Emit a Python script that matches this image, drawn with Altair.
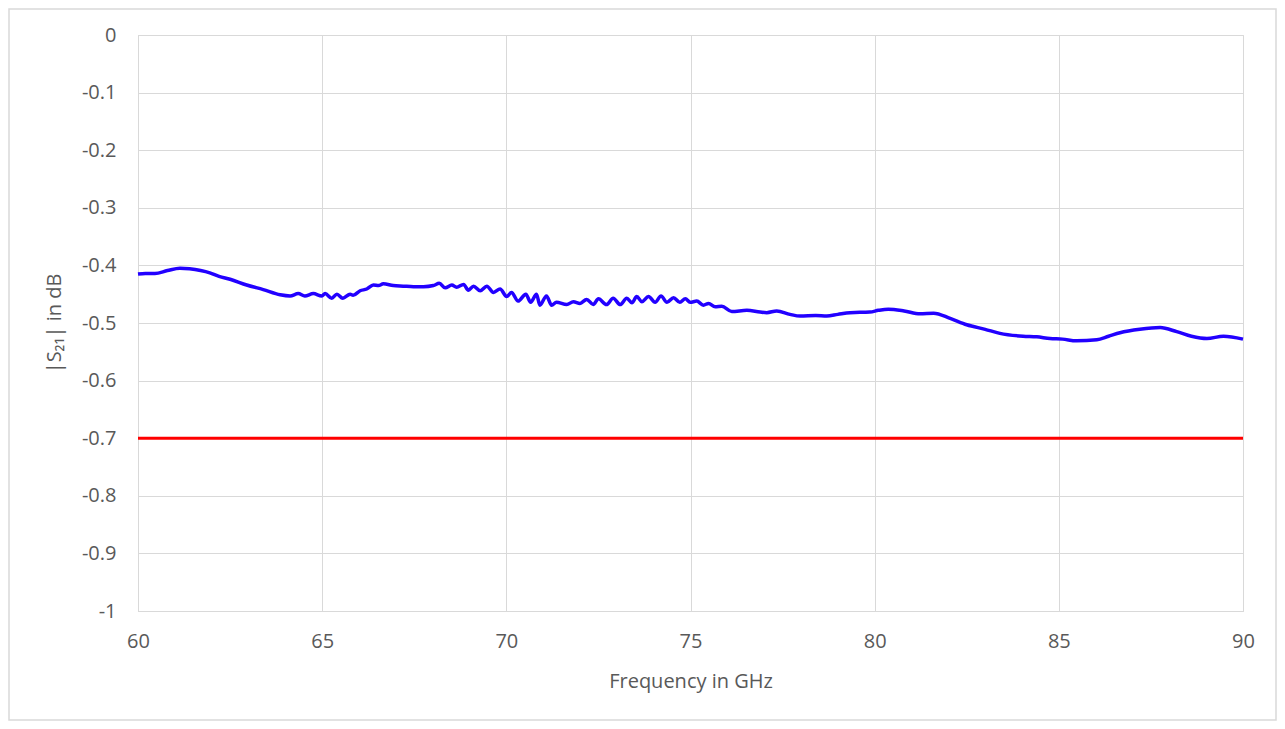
import altair as alt
import pandas as pd

freq = [60.0, 60.2, 60.46, 60.8, 61.14, 61.4, 61.7, 61.95, 62.2, 62.5, 62.95, 63.4,
        63.86, 64.13, 64.35, 64.53, 64.76, 64.99, 65.08, 65.26, 65.4, 65.56, 65.76, 65.84,
        66.03, 66.21, 66.39, 66.53, 66.66, 66.93, 67.2, 67.48, 67.75, 68.02, 68.18, 68.34,
        68.52, 68.65, 68.84, 68.97, 69.11, 69.29, 69.47, 69.65, 69.83, 70.01, 70.14, 70.32,
        70.53, 70.66, 70.82, 70.91, 71.09, 71.23, 71.36, 71.64, 71.82, 72.0, 72.18, 72.36,
        72.5, 72.72, 72.9, 73.09, 73.27, 73.41, 73.54, 73.68, 73.86, 74.04, 74.2, 74.36,
        74.54, 74.71, 74.86, 74.99, 75.17, 75.35, 75.49, 75.67, 75.85, 76.12, 76.53, 76.89,
        77.07, 77.34, 77.7, 77.98, 78.4, 78.7, 79.0, 79.33, 79.87, 80.1, 80.37, 80.8,
        81.23, 81.6, 82.05, 82.5, 83.0, 83.4, 84.03, 84.4, 84.76, 85.1, 85.48, 86.03,
        86.35, 86.66, 87.2, 87.75, 88.2, 88.6, 89.02, 89.47, 90.0]
s21 = [-0.415, -0.414, -0.414, -0.409, -0.405, -0.406, -0.409, -0.413, -0.419, -0.424, -0.434, -0.442,
       -0.451, -0.453, -0.449, -0.453, -0.449, -0.453, -0.449, -0.457, -0.450, -0.457, -0.450, -0.452,
       -0.444, -0.441, -0.434, -0.435, -0.432, -0.435, -0.436, -0.437, -0.437, -0.435, -0.431, -0.439,
       -0.434, -0.438, -0.433, -0.443, -0.436, -0.444, -0.436, -0.447, -0.441, -0.454, -0.447, -0.462,
       -0.450, -0.464, -0.450, -0.469, -0.453, -0.469, -0.464, -0.468, -0.463, -0.466, -0.459, -0.468,
       -0.458, -0.468, -0.457, -0.468, -0.457, -0.465, -0.454, -0.463, -0.454, -0.464, -0.453, -0.464,
       -0.456, -0.464, -0.458, -0.464, -0.462, -0.469, -0.466, -0.472, -0.471, -0.480, -0.478, -0.481,
       -0.482, -0.479, -0.485, -0.488, -0.487, -0.488, -0.485, -0.482, -0.481, -0.478, -0.476, -0.479,
       -0.484, -0.483, -0.492, -0.503, -0.511, -0.518, -0.523, -0.524, -0.527, -0.528, -0.531, -0.529,
       -0.523, -0.517, -0.511, -0.508, -0.515, -0.523, -0.527, -0.523, -0.528]

limit_start = [60]
limit_end = [90]
limit_value = [-0.7]

x_ticks = [60, 65, 70, 75, 80, 85, 90]
y_ticks = [0, -0.1, -0.2, -0.3, -0.4, -0.5, -0.6, -0.7, -0.8, -0.9, -1]

TEXT = "#595959"
GRID = "#d9d9d9"
FONT = "Open Sans"

df = pd.DataFrame({"f": freq, "s": s21})
lim = pd.DataFrame({"f0": limit_start, "f1": limit_end, "v": limit_value})

xscale = alt.Scale(domain=[60, 90], nice=False, zero=False)
yscale = alt.Scale(domain=[-1, 0], nice=False, zero=False)

xaxis = alt.Axis(values=x_ticks, title="Frequency in GHz", grid=True, ticks=False, tickSize=0,
                 labelPadding=20, titlePadding=20, labelFontSize=20, titleFontSize=20,
                 labelColor=TEXT, titleColor=TEXT, labelFont=FONT, titleFont=FONT,
                 titleFontWeight="normal", gridColor=GRID, domainColor=GRID,
                 labelFlush=False, labelExpr="'' + datum.value")
yaxis = alt.Axis(values=y_ticks, title="|S₂₁| in dB", grid=True, ticks=False, tickSize=0,
                 labelPadding=22, titlePadding=17, labelFontSize=20, titleFontSize=20,
                 labelColor=TEXT, titleColor=TEXT, labelFont=FONT, titleFont=FONT,
                 titleFontWeight="normal", gridColor=GRID, domainColor=GRID,
                 labelFlush=False, labelExpr="'' + datum.value")

frame = alt.Chart(lim).mark_rect(fill=None, stroke=GRID, strokeWidth=1.5, clip=False).encode(
    x=alt.value(-129), x2=alt.value(1138), y=alt.value(-26), y2=alt.value(685)
)

line = alt.Chart(df).mark_line(color="#2200FF", strokeWidth=3.5, interpolate="monotone").encode(
    x=alt.X("f:Q", scale=xscale, axis=xaxis),
    y=alt.Y("s:Q", scale=yscale, axis=yaxis),
)

limit = alt.Chart(lim).mark_rule(color="#FF0000", strokeWidth=3).encode(
    x=alt.X("f0:Q", scale=xscale), x2="f1:Q", y=alt.Y("v:Q", scale=yscale)
)

chart = alt.layer(frame, line, limit).properties(
    width=1105, height=576,
    autosize=alt.AutoSizeParams(type="none"),
    padding={"left": 130, "top": 27, "right": 34, "bottom": 110},
).configure_view(stroke=None).configure(background="white")

chart.save("out.html", embed_options={"renderer": "svg", "actions": False})
